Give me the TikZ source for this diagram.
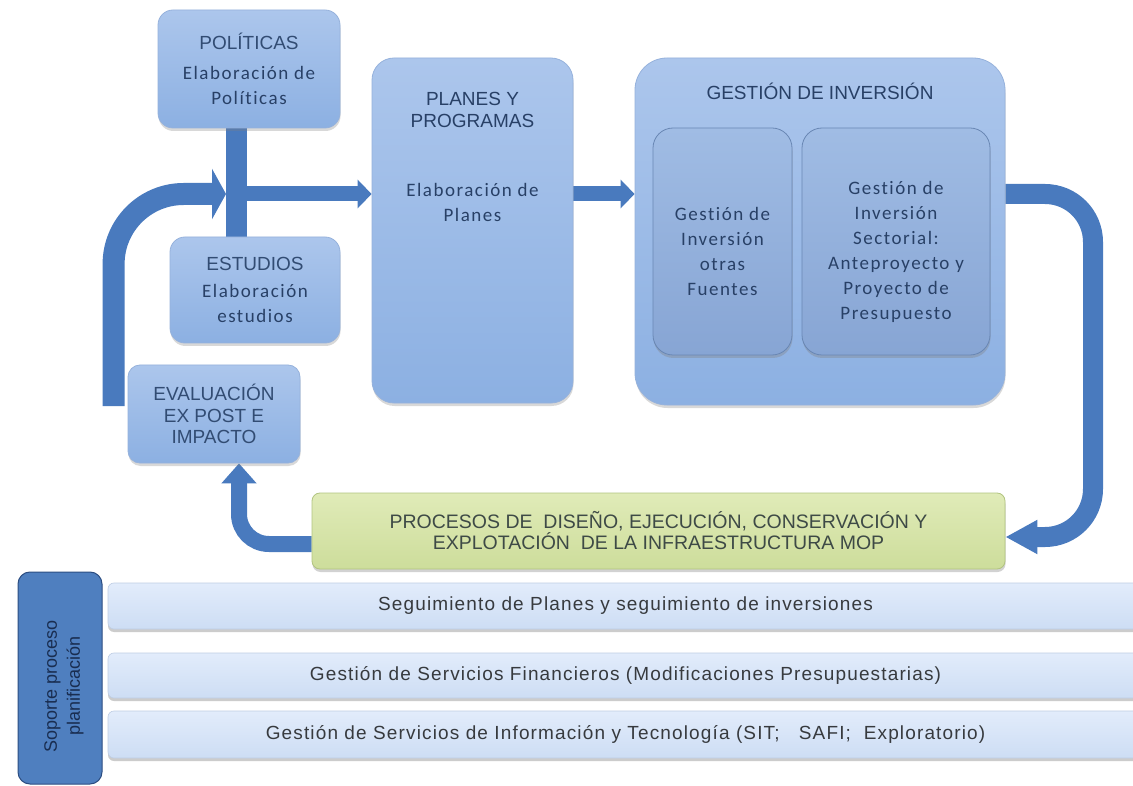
\documentclass[tikz,border=0pt]{standalone}
\usepackage{fontspec}
\setmainfont{Liberation Sans}
\newfontfamily\calib[LetterSpace=8,Ligatures=NoCommon]{Carlito}
\newfontfamily\arsp[LetterSpace=6]{Liberation Sans}
\usetikzlibrary{arrows.meta,shadows,calc}
\definecolor{arrowblue}{RGB}{73,122,190}
\definecolor{boxtop}{RGB}{172,198,236}
\definecolor{boxbot}{RGB}{140,176,226}
\definecolor{boxedge}{RGB}{150,178,220}
\definecolor{innertop}{RGB}{160,188,228}
\definecolor{innerbot}{RGB}{135,165,212}
\definecolor{inneredge}{RGB}{105,135,180}
\definecolor{txtblue}{RGB}{40,64,102}
\definecolor{capblue}{RGB}{50,76,115}
\definecolor{greentop}{RGB}{224,235,184}
\definecolor{greenbot}{RGB}{205,221,155}
\definecolor{greenedge}{RGB}{178,196,128}
\definecolor{gtext}{RGB}{62,74,70}
\definecolor{bartop}{RGB}{226,236,251}
\definecolor{barbot}{RGB}{205,221,244}
\definecolor{baredge}{RGB}{190,205,228}
\definecolor{btext}{RGB}{55,58,62}
\definecolor{sideblue}{RGB}{79,127,191}
\definecolor{sideedge}{RGB}{45,78,130}
\definecolor{sidetext}{RGB}{25,45,80}
\newcommand\mycaps{\normalfont\fontsize{19}{22}\selectfont\color{capblue}}
\newcommand\mycal{\calib\fontsize{19}{25}\selectfont}
\pgfdeclarelayer{back}
\pgfdeclarelayer{bg}
\pgfsetlayers{back,bg,main}
\begin{document}
\begin{tikzpicture}[x=1pt,y=-1pt,
  every node/.style={text=txtblue},
  box/.style={rounded corners=#1, top color=boxtop, bottom color=boxbot, draw=boxedge,
    line width=0.8pt, inner sep=0pt, align=center,
    drop shadow={shadow xshift=0.5pt,shadow yshift=-3pt,opacity=0.3}},
  innerbox/.style={rounded corners=#1, top color=innertop, bottom color=innerbot, draw=inneredge,
    line width=0.8pt, inner sep=0pt,
    drop shadow={shadow xshift=0.5pt,shadow yshift=-3pt,opacity=0.35}},
  greenbox/.style={rounded corners=8pt, top color=greentop, bottom color=greenbot, draw=greenedge,
    line width=0.8pt, inner sep=0pt, align=center, text=gtext,
    drop shadow={shadow xshift=0.5pt,shadow yshift=-3pt,opacity=0.35}},
  barbox/.style={rounded corners=6pt, top color=bartop, bottom color=barbot, draw=baredge,
    line width=0.6pt, inner sep=0pt, text=btext, font=\arsp\fontsize{19}{22}\selectfont,
    drop shadow={shadow xshift=0pt,shadow yshift=-3pt,opacity=0.4}},
  sidebox/.style={rounded corners=12pt, fill=sideblue, draw=sideedge, line width=1pt, inner sep=0pt},
  txt/.style={align=center, inner sep=0pt},
  barline/.style={draw=arrowblue, line width=21pt},
  fbarrow/.style={draw=arrowblue, line width=22pt, rounded corners=70pt, -{Triangle[width=50pt,length=14pt]}},
  midarrow/.style={draw=arrowblue, line width=15pt, -{Triangle[width=28pt,length=14pt]}},
  rarrow/.style={draw=arrowblue, line width=20pt, rounded corners=48pt, -{Triangle[width=32pt,length=32pt]}},
  garrow/.style={draw=arrowblue, line width=16pt, rounded corners=30pt, -{Triangle[width=34pt,length=20pt]}}
]
\begin{pgfonlayer}{back}
\fill[white] (0,0) rectangle (1133,786);
\end{pgfonlayer}
\useasboundingbox (0,0) rectangle (1133,786);

% boxes
\node[box=15pt, minimum width=182pt, minimum height=118pt, font=\mycal] (pol) at (249,69)
  {{\mycaps POLÍTICAS}\\[5pt]Elaboración de\\Políticas};
\node[box=15pt, minimum width=170pt, minimum height=106pt, font=\mycal] (est) at (255,290)
  {{\mycaps ESTUDIOS}\\[2pt]Elaboración\\estudios};
\node[box=12pt, minimum width=172pt, minimum height=98pt, font=\fontsize{19}{21.5}\selectfont, text=capblue] (eval) at (214,414)
  {EVALUACIÓN\\EX POST E\\IMPACTO};
\node[box=22pt, minimum width=201pt, minimum height=345pt] (planes) at (472.5,230.5) {};
\node[txt, font=\mycaps] (planesT) at ([yshift=-52pt]planes.north) {PLANES Y\\PROGRAMAS};
\node[txt, font=\mycal] (planesS) at ([yshift=-145pt]planes.north) {Elaboración de\\Planes};

\node[box=32pt, minimum width=370pt, minimum height=347pt] (gest) at (820,231.5) {};
\node[txt, font=\mycaps] (gestT) at ([yshift=-34pt]gest.north) {GESTIÓN DE INVERSIÓN};
\node[innerbox=20pt, minimum width=139pt, minimum height=227pt] (in1) at (722.5,241.5) {};
\node[txt, font=\mycal] (in1T) at ([yshift=-10pt]in1.center) {Gestión de\\Inversión\\otras\\Fuentes};
\node[innerbox=20pt, minimum width=188pt, minimum height=227pt] (in2) at (896,241.5) {};
\node[txt, font=\mycal] (in2T) at ([yshift=-10pt]in2.center) {Gestión de\\Inversión\\Sectorial:\\Anteproyecto y\\Proyecto de\\Presupuesto};

\node[greenbox, minimum width=693pt, minimum height=76pt, font=\fontsize{19.5}{21}\selectfont] (green) at (658.5,531)
  {PROCESOS DE \ DISEÑO, EJECUCIÓN, CONSERVACIÓN Y\\EXPLOTACIÓN \ DE LA INFRAESTRUCTURA MOP};

\node[barbox, minimum width=1035pt, minimum height=46pt] (bar1) at (625.5,606) {Seguimiento de Planes y seguimiento de inversiones};
\node[barbox, minimum width=1035pt, minimum height=45pt] (bar2) at (625.5,675.5) {Gestión de Servicios Financieros (Modificaciones Presupuestarias)};
\node[barbox, minimum width=1035pt, minimum height=47pt] (bar3) at (625.5,734.5) {Gestión de Servicios de Información y Tecnología (SIT; \ \ SAFI; \ Exploratorio)};

\node[sidebox, minimum width=84pt, minimum height=212pt] (side) at (60,678) {};
\node[txt, rotate=90, text=sidetext, font=\fontsize{18}{23}\selectfont] (sideT) at (64,686) {Soporte proceso\\planificación};

% connectors
\coordinate (jl) at (226,194);
\coordinate (jr) at (247,194);
\coordinate (rc) at (1093,0);
\coordinate (gr) at ([yshift=-6pt]green.east);
\coordinate (gl) at ([yshift=-13pt]green.west);
\begin{pgfonlayer}{bg}
\draw[barline] ([xshift=-12.5pt]pol.south) -- ([xshift=-12.5pt]pol.south |- est.north);
\draw[fbarrow] ([xshift=-14pt,yshift=8pt]eval.west) |- (jl);
\draw[midarrow] (jr) -- (jr -| planes.west);
\draw[midarrow] (planes.east |- jr) -- (gest.west |- jr);
\draw[rarrow] (gest.east |- jr) -- (rc |- jr) -- (rc |- gr) -- (gr);
\draw[garrow] (gl) -| ([xshift=25pt]eval.south);
\end{pgfonlayer}
\end{tikzpicture}
\end{document}
